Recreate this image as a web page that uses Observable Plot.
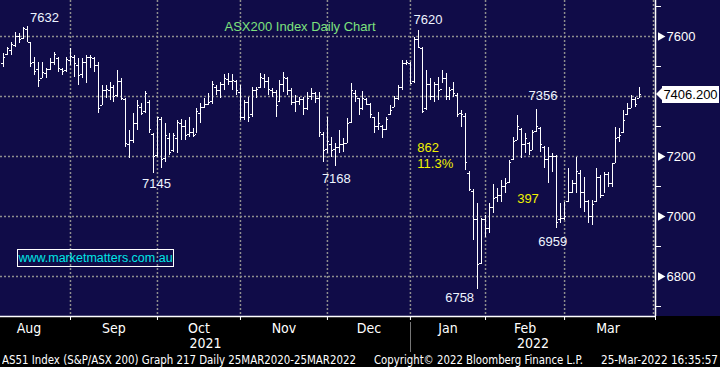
<!DOCTYPE html>
<html><head><meta charset="utf-8">
<script src="https://cdn.jsdelivr.net/npm/d3@7"></script>
<script src="https://cdn.jsdelivr.net/npm/@observablehq/plot@0.6"></script>
<style>
html,body{margin:0;padding:0;background:#000;}
#wrap{position:relative;width:720px;height:367px;overflow:hidden;background:linear-gradient(to bottom,#100c48 316px,#000 316px);}
#wrap svg{position:absolute;left:0;top:0;background:transparent;}
.ov{position:absolute;white-space:nowrap;}
.cap{font-family:"Liberation Sans Narrow","DejaVu Sans Condensed","Liberation Sans",sans-serif;font-size:12.5px;color:#fff;top:352px;line-height:16px;}
</style></head>
<body><div id="wrap"></div>
<script>
// ---- data: daily OHLC bars, trading-day index 0..161 (Aug 2021 - 25 Mar 2022) ----
const openP = [7510,7540,7555,7570,7600,7592,7625,7580,7515,7490,
7460,7478,7490,7515,7528,7490,7488,7520,7530,7505,
7475,7515,7530,7528,7505,7370,7420,7420,7430,7405,
7450,7390,7240,7255,7310,7365,7350,7380,7275,7205,
7325,7195,7260,7220,7260,7310,7300,7275,7280,7275,
7345,7365,7375,7385,7430,7420,7440,7458,7450,7450,
7415,7330,7380,7340,7420,7430,7460,7450,7420,7415,
7383,7440,7460,7420,7380,7385,7390,7360,7400,7410,
7395,7275,7225,7240,7225,7230,7240,7245,7315,7410,
7395,7360,7390,7375,7330,7300,7300,7290,7340,7365,
7395,7430,7510,7510,7450,7590,7560,7360,7440,7400,
7440,7425,7460,7400,7425,7405,7345,7335,7145,7085,
6990,6845,6990,6960,7030,7065,7070,7100,7115,7190,
7255,7290,7240,7245,7220,7285,7295,7230,7190,7200,
7200,6990,6995,7050,7080,7110,7145,7080,7050,7000,
7050,7130,7070,7140,7110,7178,7265,7280,7340,7360,
7390,7395];
const highP = [7542,7564,7581,7614,7609,7631,7632,7581,7531,7514,
7514,7492,7526,7548,7531,7492,7531,7559,7537,7526,
7526,7537,7537,7531,7514,7437,7437,7448,7437,7487,
7459,7392,7287,7342,7387,7376,7418,7387,7276,7331,
7331,7309,7276,7276,7320,7322,7320,7329,7292,7359,
7376,7392,7409,7450,7437,7448,7472,7476,7472,7453,
7437,7387,7398,7431,7431,7476,7472,7464,7426,7420,
7453,7479,7464,7426,7403,7398,7398,7414,7426,7414,
7414,7281,7331,7264,7242,7287,7259,7326,7442,7420,
7392,7418,7392,7376,7331,7348,7303,7331,7370,7400,
7437,7520,7520,7514,7596,7620,7564,7487,7459,7448,
7464,7487,7476,7431,7448,7409,7353,7342,7150,7090,
7042,6995,7003,7042,7107,7092,7120,7126,7187,7264,
7337,7292,7276,7248,7287,7356,7298,7233,7231,7209,
7205,7042,7048,7159,7120,7198,7153,7131,7053,7053,
7159,7137,7148,7148,7176,7298,7292,7353,7376,7403,
7398,7431];
const lowP = [7498,7537,7537,7564,7576,7589,7581,7498,7470,7431,
7459,7459,7487,7503,7481,7470,7481,7503,7464,7437,
7459,7442,7492,7481,7344,7370,7392,7387,7381,7398,
7387,7231,7192,7242,7287,7337,7342,7276,7145,7198,
7159,7181,7203,7214,7209,7253,7253,7264,7264,7276,
7309,7359,7370,7372,7403,7392,7420,7437,7420,7403,
7320,7320,7314,7331,7392,7426,7426,7403,7398,7331,
7381,7414,7403,7370,7348,7370,7337,7353,7387,7376,
7264,7181,7209,7198,7168,7209,7214,7242,7309,7381,
7337,7353,7370,7326,7276,7287,7259,7287,7337,7364,
7387,7420,7503,7442,7442,7564,7342,7353,7387,7381,
7387,7442,7387,7387,7398,7331,7298,7153,7085,6920,
6758,6840,6931,6942,7009,7048,7048,7076,7109,7187,
7253,7192,7209,7203,7220,7281,7214,7159,7109,7148,
6959,6976,6987,7048,7076,7076,7026,7014,6976,6970,
7048,7059,7076,7098,7098,7176,7248,7276,7337,7359,
7362,7392];
const closeP = [7530,7560,7575,7600,7590,7628,7590,7510,7485,7455,
7480,7490,7515,7540,7495,7485,7525,7535,7510,7470,
7515,7530,7530,7505,7360,7420,7425,7435,7400,7450,
7395,7245,7255,7310,7370,7345,7410,7290,7200,7330,
7190,7270,7215,7270,7315,7300,7270,7280,7270,7350,
7365,7375,7380,7440,7420,7440,7460,7450,7455,7420,
7330,7380,7330,7420,7425,7465,7450,7425,7415,7370,
7440,7465,7420,7380,7385,7390,7360,7395,7410,7395,
7280,7220,7250,7220,7230,7240,7245,7310,7420,7400,
7360,7395,7375,7340,7300,7310,7290,7325,7355,7395,
7430,7510,7512,7445,7590,7565,7350,7440,7400,7440,
7420,7460,7400,7420,7410,7340,7340,7180,7090,6990,
6840,6990,6960,7030,7060,7070,7100,7110,7180,7250,
7300,7240,7260,7215,7280,7300,7240,7190,7200,7200,
6980,6995,7000,7080,7110,7150,7080,7050,7000,7040,
7130,7070,7140,7110,7170,7260,7270,7320,7360,7390,
7375,7406.2];

// month boundaries (trading-day index of first session; first and last are off-chart)
const monthNames = ["Aug","Sep","Oct","Nov","Dec","Jan","Feb","Mar"];
const monthBounds = [-4,17,39,60,82,103,122,142,164];
const yearNames = ["2021","2022"];
const yearBounds = [-4,103,228];
const majorTicks = [6800,7000,7200,7400,7600];
const minorTicks = [6700,6900,7100,7300,7500,7700];
const titleText = "ASX200 Index Daily Chart";
const urlText = "www.marketmatters.com.au";
const captionLeft = "AS51 Index (S&P/ASX 200) Graph 217  Daily 25MAR2020-25MAR2022";
const captionMid = "Copyright\u00A9 2022 Bloomberg Finance L.P.";
const captionRight = "25-Mar-2022 16:35:57";

const bars = openP.map((o,i)=>({i, open:o, high:highP[i], low:lowP[i], close:closeP[i]}));
const xDomain = [-0.708, 165];
const yDomain = [6666.7, 7720];
const grid = "#8e8e8e";
const labFont = '"Liberation Sans", Arial, sans-serif';
const narrow = '"Liberation Sans Narrow","DejaVu Sans Condensed",sans-serif';
const lastClose = closeP[closeP.length-1];
// the price tag covers the axis label nearest the last close
const hiddenTick = majorTicks.reduce((a,b)=>Math.abs(b-lastClose)<Math.abs(a-lastClose)?b:a);
const shownTicks = majorTicks.filter(t=>t!==hiddenTick);

const months = monthNames.map((m,k)=>({m, mid:(monthBounds[k]+monthBounds[k+1])/2}));
const years = yearNames.map((y,k)=>({y, mid:(Math.max(xDomain[0],yearBounds[k])+Math.min(xDomain[1],yearBounds[k+1]))/2}));
const innerBounds = monthBounds.slice(1,-1);

const hiIdx = (a,b)=>{let m=a;for(let k=a;k<=b;k++) if(highP[k]>highP[m]) m=k;return m;};
const loIdx = (a,b)=>{let m=a;for(let k=a;k<=b;k++) if(lowP[k]<lowP[m]) m=k;return m;};
const h1 = hiIdx(0,30), h2 = hiIdx(90,115), h3 = hiIdx(125,139);
const l1 = loIdx(30,50), l2 = loIdx(75,95), l3 = loIdx(110,125), l4 = loIdx(136,145);
const drop = highP[h2]-lowP[l3];
const bounce = highP[h3]-lowP[l4];

function lab(idx, field, dx, dy, color, txt, anchor="middle"){
  const v = field==="high"?highP[idx]:lowP[idx];
  return Plot.text([txt ?? String(Math.round(v))], {x:()=>idx, y:()=>v, dx, dy, fill:color, fontSize:13, fontFamily:labFont, textAnchor:anchor, lineAnchor:"middle"});
}

const plot = Plot.plot({
  width:720, height:367,
  marginTop:0, marginBottom:51, marginLeft:0, marginRight:65,
  style:{background:"transparent", overflow:"visible"},
  x:{type:"linear", domain:xDomain, axis:null},
  y:{type:"linear", domain:yDomain, axis:null},
  marks:[
    Plot.ruleY(majorTicks, {stroke:grid, strokeWidth:1.5, strokeDasharray:"2,2"}),
    Plot.ruleX(innerBounds, {stroke:grid, strokeWidth:1.5, strokeDasharray:"2,2"}),
    Plot.ruleX([xDomain[1]], {dx:-2, stroke:grid, strokeWidth:1.5, strokeDasharray:"2,2"}),
    Plot.ruleX(bars, {x:"i", y1:"low", y2:"high", stroke:"white", strokeWidth:1, shapeRendering:"crispEdges"}),
    Plot.ruleY(bars, {y:"open", x1:d=>d.i-0.5, x2:"i", stroke:"white", strokeWidth:1, shapeRendering:"crispEdges"}),
    Plot.ruleY(bars, {y:"close", x1:"i", x2:d=>d.i+0.5, stroke:"white", strokeWidth:1, shapeRendering:"crispEdges"}),
    Plot.ruleX([xDomain[1]], {stroke:"white", strokeWidth:1.5}),
    Plot.ruleY([yDomain[0]], {stroke:"white", strokeWidth:1.5}),
    Plot.axisY({anchor:"right", ticks:minorTicks, tickSize:5, tickFormat:()=>"", stroke:"white"}),
    Plot.axisY({anchor:"right", ticks:shownTicks, tickSize:0, tickPadding:11, tickFormat:d=>String(d), fill:"white", fontSize:13, fontFamily:labFont}),
    Plot.dot(shownTicks, {x:()=>xDomain[1], y:d=>d, symbol:"triangle", rotate:90, r:3.2, fill:"white", dx:5}),
    Plot.axisX({anchor:"bottom", ticks:[...innerBounds, xDomain[1]], tickSize:4, tickFormat:()=>"", stroke:"white"}),
    Plot.text(months, {x:"mid", text:"m", frameAnchor:"bottom", dy:12, fill:"white", fontSize:14, fontFamily:narrow, lineAnchor:"middle"}),
    Plot.text(years, {x:"mid", text:"y", frameAnchor:"bottom", dy:27, fill:"white", fontSize:14, fontFamily:narrow, lineAnchor:"middle"}),
    Plot.text([titleText], {frameAnchor:"top-left", dx:224, dy:26, fill:"#7ee27e", fontSize:13, fontFamily:labFont, textAnchor:"start", lineAnchor:"middle"}),
    lab(h1,"high",17.5,-9.5,"#eef4ff"),
    lab(h2,"high",9.6,-11,"#eef4ff"),
    lab(l1,"low",3,10.5,"#eef4ff"),
    lab(l2,"low",1,12.4,"#eef4ff"),
    lab(h3,"high",6,-14,"#eef4ff"),
    lab(l4,"low",-4,12.7,"#eef4ff"),
    lab(l3,"low",-18,8.5,"#eef4ff"),
    Plot.text([String(drop)], {x:()=>h2, y:()=>(highP[h2]+lowP[l3])/2, dx:-1, dy:-12, fill:"#f2f200", fontSize:13, fontFamily:labFont, textAnchor:"start", lineAnchor:"middle"}),
    Plot.text([(drop/highP[h2]*100).toFixed(1)+"%"], {x:()=>h2, y:()=>(highP[h2]+lowP[l3])/2, dx:-1, dy:4, fill:"#f2f200", fontSize:13, fontFamily:labFont, textAnchor:"start", lineAnchor:"middle"}),
    Plot.text([String(bounce)], {x:()=>130, y:()=>(highP[h3]+lowP[l4])/2, dx:0, dy:30, fill:"#f2f200", fontSize:13, fontFamily:labFont, textAnchor:"start", lineAnchor:"middle"})
  ]
});
const wrap = document.getElementById("wrap");
wrap.appendChild(plot);

const xs = plot.scale("x"), ys = plot.scale("y");
// price tag
const py = ys.apply(lastClose);
const tag = document.createElement("div");
tag.className="ov";
tag.style.cssText = `left:662px;top:${py-8.5}px;width:57px;height:17px;background:#fff;color:#000;font:13px ${labFont};line-height:17px;text-align:center;`;
tag.textContent = lastClose.toFixed(3);
wrap.appendChild(tag);
const arrow = document.createElement("div");
arrow.className="ov";
arrow.style.cssText = `left:656px;top:${py-6}px;width:0;height:0;border-top:6px solid transparent;border-bottom:6px solid transparent;border-right:6px solid #fff;`;
wrap.appendChild(arrow);
// url box
const url = document.createElement("div");
url.className="ov";
url.style.cssText = `left:17px;top:249px;width:155px;height:16px;border:1.5px solid #fff;color:#00e6e6;font:12.5px ${labFont};line-height:16px;text-align:center;`;
url.textContent = urlText;
wrap.appendChild(url);
// year separator
const sep = document.createElement("div");
sep.className="ov";
sep.style.cssText = `left:${xs.apply(monthBounds[5])}px;top:322px;width:1px;height:30px;background:#777;`;
wrap.appendChild(sep);
// caption line: each piece condensed to the width it has in the Bloomberg footer
[[captionLeft,2,354,"left"],[captionMid,374,209,"left"],[captionRight,601,117,"left"]].forEach(([t,left,w])=>{
  const d=document.createElement("div"); d.className="ov cap";
  d.style.left = left+"px"; d.style.transformOrigin = "0 50%";
  d.textContent=t; wrap.appendChild(d);
  const nat = d.getBoundingClientRect().width;
  if (nat > 0) d.style.transform = `scaleX(${w/nat})`;
});
</script>
</body></html>
